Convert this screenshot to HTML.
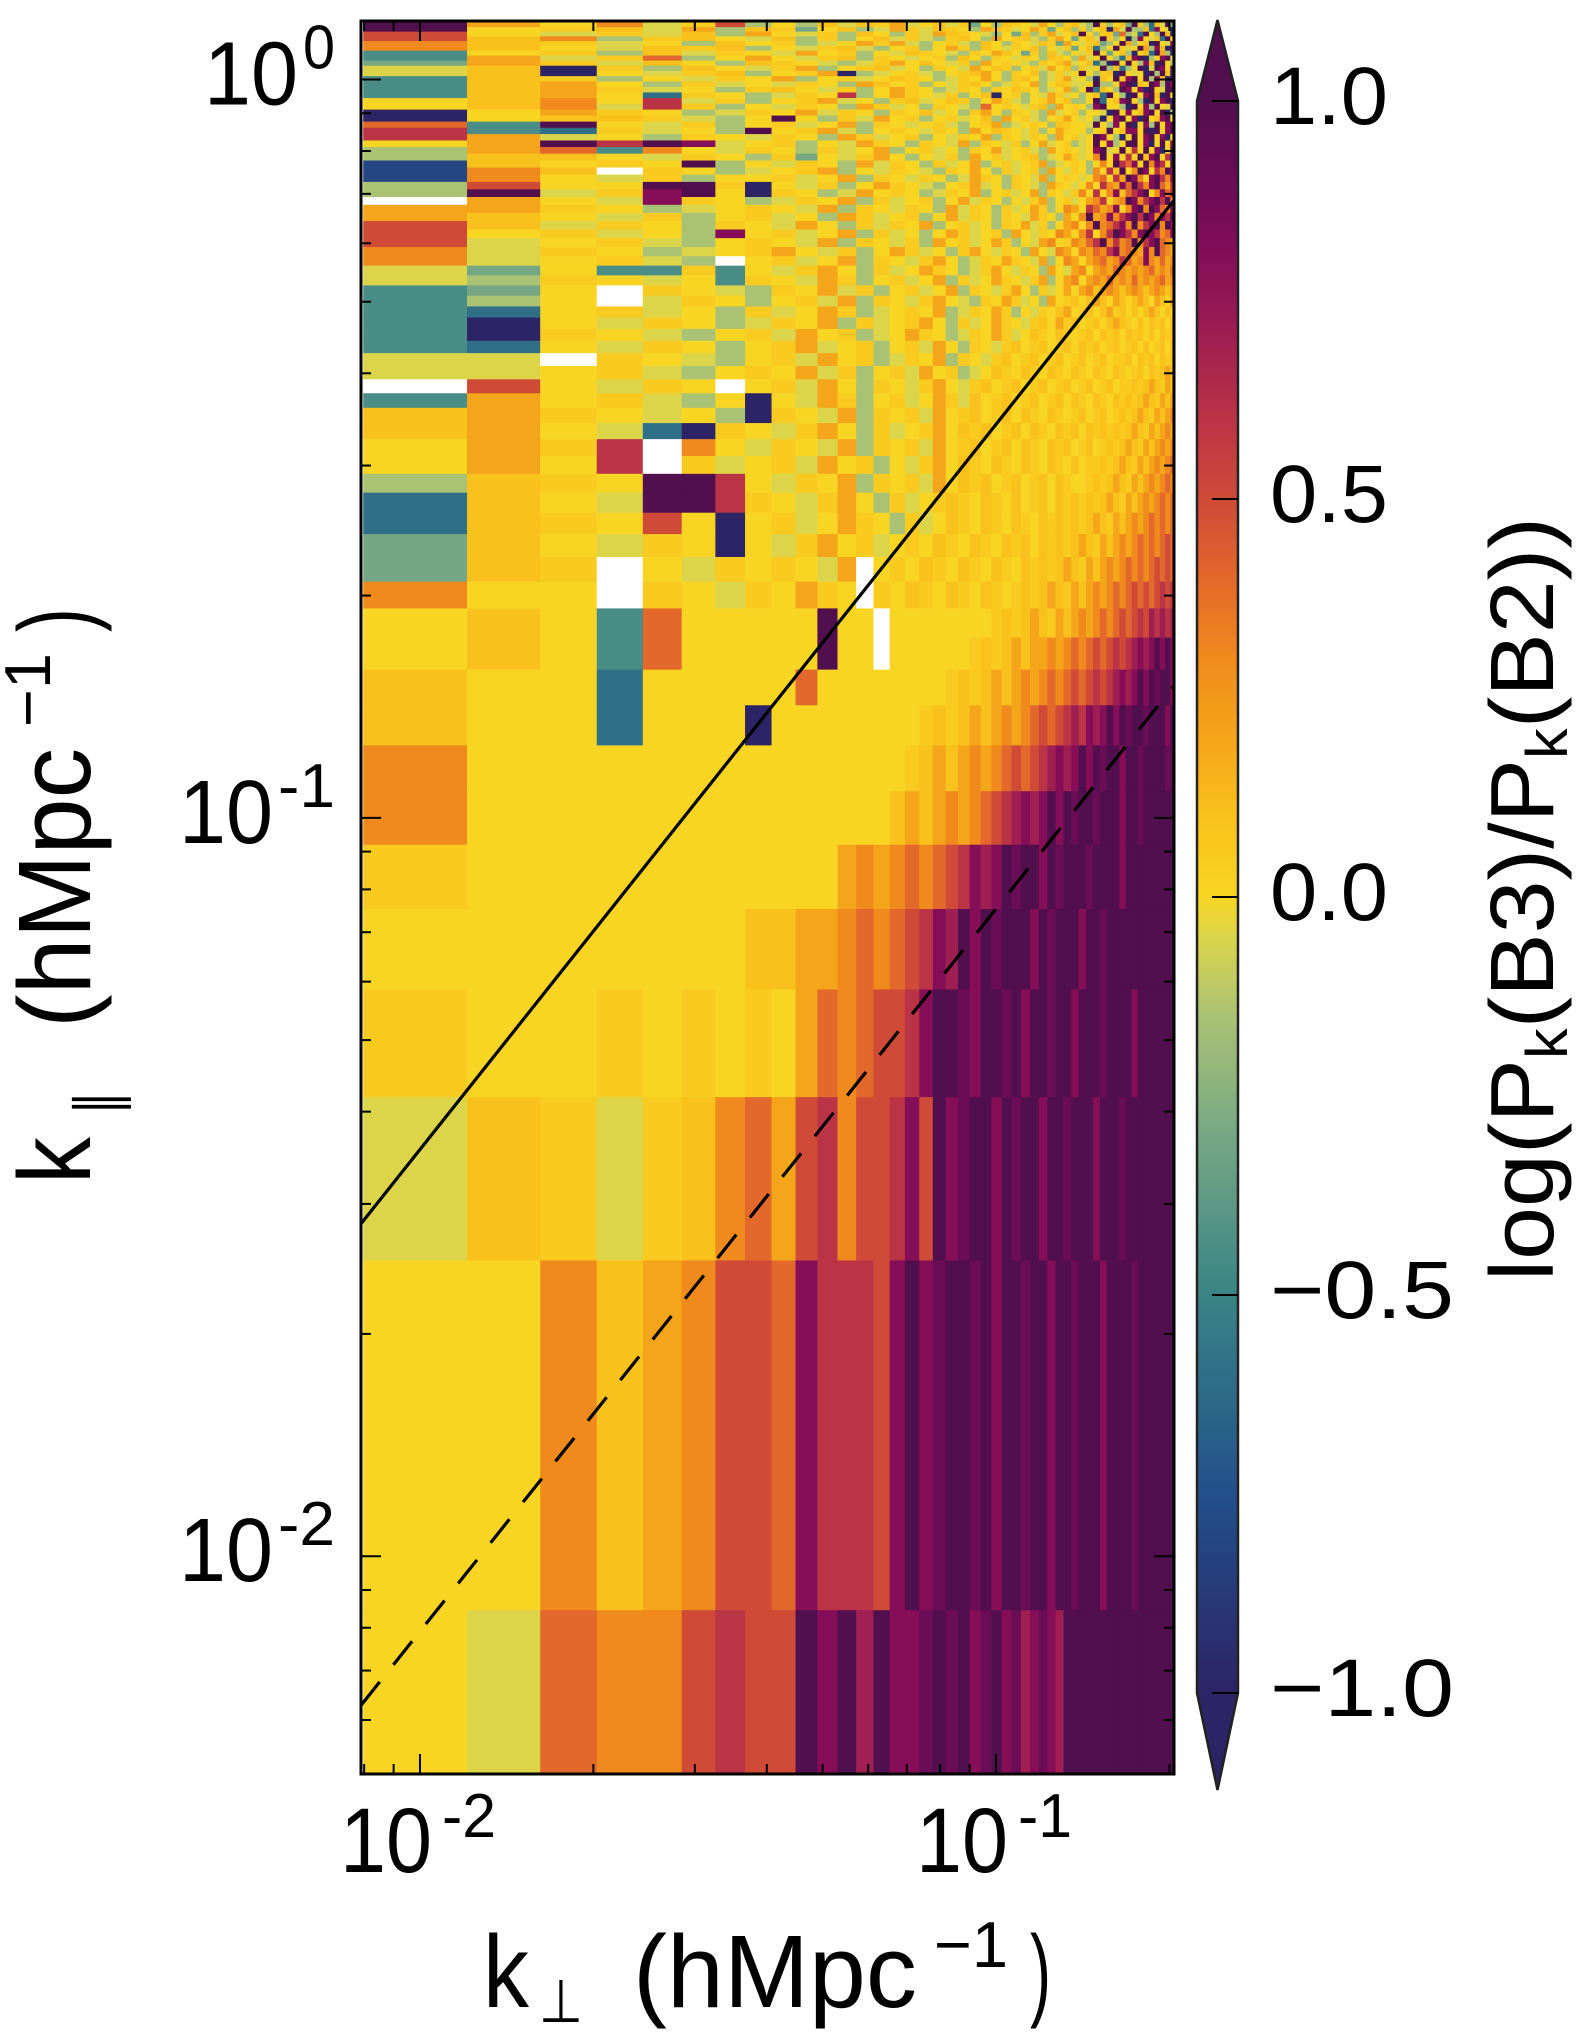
<!DOCTYPE html>
<html>
<head>
<meta charset="utf-8">
<style>
  html,body{margin:0;padding:0;background:#fff;}
  svg{display:block;}
  text{font-family:"Liberation Sans","DejaVu Sans",sans-serif;fill:#000;}
</style>
</head>
<body>
<svg id="chart" width="1590" height="2038" viewBox="0 0 1590 2038" xmlns="http://www.w3.org/2000/svg">
  <defs>
    <clipPath id="plotClip"><rect x="361" y="21" width="813" height="1753"/></clipPath>
    <linearGradient id="cbGrad" x1="0" y1="1" x2="0" y2="0"></linearGradient>
  </defs>
  <rect x="0" y="0" width="1590" height="2038" fill="#fff"/>
  <g id="heatmap" clip-path="url(#plotClip)"></g>
  <g id="lines" clip-path="url(#plotClip)"></g>
  <g id="ticks"></g>
  <rect x="361" y="21" width="813" height="1753" fill="none" stroke="#000" stroke-width="3"/>
  <g id="ticklabels"></g>
  <g id="colorbar"></g>

  <g>
    <text x="483" y="2007" font-size="103" textLength="46" lengthAdjust="spacingAndGlyphs">k</text>
    <text x="539" y="2022" font-size="60" textLength="44" lengthAdjust="spacingAndGlyphs" style='font-family:"DejaVu Sans",sans-serif'>⊥</text>
    <text x="633" y="2007" font-size="103" textLength="284" lengthAdjust="spacingAndGlyphs">(hMpc</text>
    <text x="934" y="1967" font-size="65" textLength="74" lengthAdjust="spacingAndGlyphs">−1</text>
    <text x="1030" y="2007" font-size="103" textLength="21" lengthAdjust="spacingAndGlyphs">)</text>
  </g>
  <g>
    <text x="90" y="1184" transform="rotate(-90 90 1184)" font-size="103" textLength="47" lengthAdjust="spacingAndGlyphs">k</text>
    <text x="118" y="1115" transform="rotate(-90 118 1115)" font-size="60" textLength="24" lengthAdjust="spacingAndGlyphs" style='font-family:"DejaVu Sans",sans-serif'>∥</text>
    <text x="90" y="1028" transform="rotate(-90 90 1028)" font-size="103" textLength="280" lengthAdjust="spacingAndGlyphs">(hMpc</text>
    <text x="50" y="727" transform="rotate(-90 50 727)" font-size="65" textLength="74" lengthAdjust="spacingAndGlyphs">−1</text>
    <text x="90" y="632" transform="rotate(-90 90 632)" font-size="103" textLength="24" lengthAdjust="spacingAndGlyphs">)</text>
  </g>
  <g>
    <text x="1553" y="1281" transform="rotate(-90 1553 1281)" font-size="90" textLength="764" lengthAdjust="spacingAndGlyphs">log(P<tspan font-size="58" dy="14">k</tspan><tspan dy="-14">(B3)/P</tspan><tspan font-size="58" dy="14">k</tspan><tspan dy="-14">(B2))</tspan></text>
  </g>
</svg>
<script>
// ---- data ----
const kPerpStart = 0.00797;
const kPerpStep = 0.0041;
const nCols = 48;
const kParFirstEdge = 0.00845;
const kParStep = 0.0167;
const levelChars = ["A","B","C","D","E","F","G","H","I","J","K","L","M","N","O","P","Q","R","S"];
const levelValues = [-1.0,-0.8,-0.6,-0.45,-0.3,-0.15,-0.05,0.0,0.05,0.1,0.2,0.3,0.4,0.5,0.6,0.7,0.8,0.9,1.0];
// rows from top (k_par bin 72) to bottom (bin 0); 'w' = no data
const rowCodes = [
"SJGKHFIJ GKEIJHGF KHIGFJHF IJFGKHEI GFJFKBIG HJEFIGKF",
"SKHLGINF HFJGJIKG HJGIEHFJ IHGKHFIJ GFSIFHJE SIFCJGSE",
"SHIJGKFJ IEHJFGKI GJIHFKJI GHKIEHJF IFHJAKGS FFJCQHGA",
"NHGIGJFK HGIFJHFI GKJIHGFH EJFIKGHJ SHFIJEMF GCSHFSJA",
"NJLFIJHG JFIFHJGI GFIJHFKH IJGFIKHE HJGSIFHA FQHGJCSH",
"LJIGHFJH IFGHKIKG FHIGFJHF IHGJIEKH GIJEFHSK FHJASHGQ",
"LJHGJIJF HGIJGFHI FHKIFJHG IHJFHGIE HJCFHSIG HSKFQJAS",
"DHIFJGIH GKHIFHGJ IHGFIHKJ HEIFJGFH GISHEHJF AHJCSKFA",
"DKGIMFHK HGIJFIHG HIFJHFIH GIHFJIHF KGHSHFCJ QSAFHQSG",
"EKIGJHFJ IHGFGIKH JHGIFKHI HGFIHJKG HJCFASHS HFQJASHF",
"GJAIFJHG IKFHIJGH FIHGKHJI FHIGKHJF IGHSFJCF HSAGSQHS",
"GJAHGIJF HIKAFGHI GFHIJKHF IHJFGIGH SHFIJASH GHASFSJA",
"DJIFHGIH KFHIGHJI HFGIHKHF IJHFGIKG HFAJHSIQ SHSFQJAS",
"DJKHFIGH GIHFKJHI FHGIJHFG IHKFHJIG GHSFFHQS AJHSQFSQ",
"DJKIGHFI JHGIFHKI HFGIHFIH JIHFGHKF HSCJHFSQ HQASHGSS",
"DJKHCIHF GIHOFHKI HGIFHJAH IFHGKIGH FHJCSHFA SHQSJASH",
"HJLHOGIF HIKGHFIJ GHJIFHKI GFHIKHJF FHSCHJQS HFASHQSA",
"HJLGOIFH GIHFKIGH FIHGFMHI HGIJFKHI HFQSHHFA SHQFSHGS",
"AHKIHFGI HKGIHFIH JGHFIKHF IHGFKGHI FHHGASHQ HJQSHSAF",
"AHJJIGFH SHFIGKHI FHIGHJFK HIGFHIKH GHFAHQSH QASHJQSH",
"MDSHGIFH IGHKFIHG HIGFHIKF GHIHFJIH HGSHFQHS AHQFSHQS",
"ODCIGHFS HIKGFHIH GIHFKHJI HGIFHKIH HFHISHJQ QHSASHQS",
"OKGHFIHG IHFKIGHI FHGIHKFI HGIHFKHI GHSQHFAH SHQSHQAH",
"HKSOSQGH IFHGKIHF IHGKFIHG IFHKGHIF GHSHQFHS SHQAHSHQ",
"FKMDLHGI HFIGHKFH IGHFIHKG HIGFKHIH GHQSGHSH OHSHQAHS",
"FJJHGIHF IEHGIKHF HGIFKHIG HIJFGHKI GHLSHQHO HSJQSHOA",
"BJHIHSFH GIHFKGIH FIGHKFHI GHIKFGHI HFHLHSOM QHSLQOHS",
"BLJwIHFG HIKFHGIH GFIHKHFI GHIFKHGI HFLHOJSH LSQHOLSQ",
"BLHGIFHH IGHKFIHG IHFGKIHF IHGKFHIH GHLMHOKS QLHQSOLQ",
"FNHHSSIA HGIFHKIH GFHIKGHF IHGFKIHG HLHOLKQM SOLQSMKO",
"FSGIQSHA IHFGKHIH FGIHKFHI GHKFIHGI LHOHLQJM OQSHLQMO",
"wKHGQIHF GIHKFIGH IFHKGIHF HGIKFHIG HKLOHKLS QLOQSOSL",
"KKIHFGHI HGKFIHGI HFKGIHFI GHKIFHLK HOMKLQHL QSLSQMLQ",
"KJHGIFHI GHFKIGHI FHKGIHFI HGKIHFKH LSKLQLOQ SOSQLQOS",
"NJGIHFIH GKHFIGIH KFHIGHFI HKGIFHKL HLSLMOQL SLOQSLSQ",
"NHIGHFQH IGHKFIGH FHKIGHIF KHGIHLKH LOHLOSQO LQSQOLMQ",
"NGHIGFHI HGKFIHGI FKHIGHKI FHGKLHIL KMOSLOLM SLOQSMLK",
"LGIHFGHI KHGIFHKI GHFIKHGI HFKHGLKH LKMLOQLM LKQLSMLK",
"LGHIGFwH IGHKFIHG IKHFGIHK IHGKFHLK HKLMKLOM KLQLKMKL",
"GEHDDIDH GIKHFIGH KIHFGIKH GIHFKHGK LHKLKMLK LKLMKLKM",
"GFIHGHDI HGKIFHIG HKFIGHKI HGIKFHKL HKLKMKLK MKLKLMKL",
"DEHwIHGF IHKGIFHI GHKFIHGI KHFIGHKH KLJKLKJK LKJKLKJK",
"DFHwGIHF HIGKFIHG IKHGFIHK IGHFKHIJ HJKJHKJH JKJHKJHK",
"DCHIGHFI GHKIFGHI HKFGIHKI FHGIHJKH IJHJKIJH JHJKJHJI",
"DAHGIHFG IHKFIGHI KHFIGHKI HGIJHKIJ HIJHJKJI HJHJIJHJ",
"DAIHGFHI GKHIFGHK IHFGIHKI GHJIHJIH IJHJIJHJ IJHJHJIJ",
"DCHGIHFH IKGHIFHI GKHFIHGI JHIJHIJH JIJHIJHI JHJHIJHJ",
"GGwIHGFH IGKHIFGI HKFIHGIJ HIJHIJHI JHIJHIIJ HJIJHJIJ",
"GGHIGFHI HKGIFHIG KHIFGHJI HJIHJIHJ IHJIHJIH IJHJIJKJ",
"wNHGIHwH IGKHFIHG IKHGIJHI JHIJHIJH IJHIJHII JIJKJIKJ",
"DKHIGFHA HGKIFHIG HKIGJHIJ HIJHIJHJ IHJIHJIJ IJKJIKJK",
"JKIHGHFA IHGKFIHI GKHIJHIJ HJIHJIHI JHIJHIJI JKJIKJKL",
"JKHGCAIH GIKHFIGH IKHJIJHI JHJIHJIJ HJIJIJIJ KJIKJKLK",
"HKIOwLHG IHGKFIHI GKHIJHIJ HJIHJIJH IJHIJIJK JIKJKLKL",
"HKHOwIGH IGKHIFHG IKHJIHJI HJIHJIHJ HIIJIJKJ IKJKLKLM",
"FJIHSSOH GIHKFIHI GKHJIJHI JHIJHJIH HIJIJKJI KJKLKLML",
"CJHGSSOI HGIKHFIG HIJIHJIH JHIJHJIJ IJIJKJIK JKLKLMLM",
"CJIHNHAH IGHKIHFI GHJIHJIH JIHJIJIJ IJKJIKJK LKLMLMLM",
"EJHGIHAH GIKHIGHI HJIHJIHJ IJHJIJIJ KJIKJKLK LMLMLMNM",
"EJIwHGIH IHGKwHIH JIHJIHJI HJIJIJKJ IKJKLKLM LMLMNMNM",
"LHHwIHGI HKIHwIHJ IHJIHJIH IJIJKJIK JKLKLMLM NMNMNONO",
"HJHDMHHH HHSHHwHH HHHHHHIJ IJKJIKJK LKLMLMNM NONPOPOP",
"HJHDMHHH HHSHHwHH HHHHIJIJ KJKKLKLM LMNMNONO PQPQSQSQ",
"JHHCHHHH HMHHHHHH HHIJIJKJ KLKLMLMN MNONOPQP QSQSRSSQ",
"JHHCHHHA HHHHHHHH IJIJKJKL KLMNMNOP OQPQSQSR SSRSSSQS",
"LHHHHHHH HHHHHHHI JKJKLKLM NMNOPQPQ SQSRSSQS SRSSSSRS",
"LHHHHHHH HHHHHHJK JKLKLMNO PQPQSQSR SSRSSSQS SRSSSSSS",
"IHHHHHHH HHHKLKLM LMNOQPQS RSSQSRSS SRSSSSQS SSSSSSSS",
"HHHHHHHJ JKKLMLMN OQPSQSRS SSQSRSSS QSSRSSSS SSSSSSSS",
"IHHIHIHI HKMLMNNO QSSRQSSR SQSSRSSQ SSSRSSSS QSSSSSSS",
"GJIGIJLM KNOLNNOQ NSQRSSQS RSSQSSRS SSQSSSRS SSSSSSSS",
"HHLJKLNN MQOOONQS QRSSRSQS SRSSQSSR SSSQSSSS RSSSSSSS",
"HGMLLNON NSQSPSQQ RSRSQRSQ RPQRQPSS SSSSSSSS SSSSSSSS"
];
const xTickValues = [0.01, 0.1];
const xTickExps = ["-2", "-1"];
const yTickValues = [1, 0.1, 0.01];
const yTickExps = ["0", "-1", "-2"];
const cbTickValues = [1.0, 0.5, 0.0, -0.5, -1.0];
const cbTickLabels = ["1.0", "0.5", "0.0", "\u22120.5", "\u22121.0"];
const solidLineKPerp = [0.0079, 0.2037];
const solidLineKPar = [0.0282, 0.686];
const dashedLineKPerp = [0.0079, 0.2037];
const dashedLineKPar = [0.00628, 0.151];

// ---- scales ----
const X0 = 361, X1 = 1174, Y0 = 1774, Y1 = 21;
const xDom = [0.0079, 0.2037], yDom = [0.00507, 1.2];
function xScale(k){ const a=Math.log10(xDom[0]), b=Math.log10(xDom[1]); return X0 + (Math.log10(k)-a)/(b-a)*(X1-X0); }
function yScale(k){ const a=Math.log10(yDom[0]), b=Math.log10(yDom[1]); return Y0 + (Math.log10(k)-a)/(b-a)*(Y1-Y0); }
const cbTop = 101, cbBot = 1693, cbL = 1197, cbR = 1238;
function cbScale(v){ return cbBot + (v+1)/2*(cbTop-cbBot); }

const stops = [[-1,'#2d2466'],[-0.75,'#22508a'],[-0.5,'#3a8486'],[-0.3,'#76a784'],[-0.15,'#a9c274'],[-0.05,'#dcd54a'],[0,'#f8d523'],[0.1,'#f9c11c'],[0.2,'#f5a519'],[0.3,'#f08a1c'],[0.4,'#e2682b'],[0.5,'#d04a38'],[0.6,'#bb3446'],[0.7,'#a01f52'],[0.8,'#860e58'],[0.9,'#6a0c56'],[1.0,'#520f4d']];
function hex2rgb(h){ return [parseInt(h.slice(1,3),16),parseInt(h.slice(3,5),16),parseInt(h.slice(5,7),16)]; }
function cmap(v){
  if (v<=stops[0][0]) return stops[0][1];
  for (let i=1;i<stops.length;i++){
    if (v<=stops[i][0]){
      const t=(v-stops[i-1][0])/(stops[i][0]-stops[i-1][0]);
      const a=hex2rgb(stops[i-1][1]), b=hex2rgb(stops[i][1]);
      return 'rgb('+a.map((c,j)=>Math.round(c+(b[j]-c)*t)).join(',')+')';
    }
  }
  return stops[stops.length-1][1];
}
const NS = "http://www.w3.org/2000/svg";
function mk(tag, attrs, parent){ const e=document.createElementNS(NS,tag); for (const k in attrs) e.setAttribute(k, attrs[k]); parent.appendChild(e); return e; }

// ---- heatmap ----
const hm = document.getElementById('heatmap');
const nRows = rowCodes.length;
rowCodes.forEach((code, idx) => {
  const s = code.replace(/ /g,'');
  const j = nRows - 1 - idx;
  const ylo = j===0 ? yDom[0] : kParFirstEdge + (j-1)*kParStep;
  const yhi = Math.min(kParFirstEdge + j*kParStep, yDom[1]*1.05);
  const yTop = yScale(yhi), yBot = yScale(ylo);
  for (let i=0;i<nCols;i++){
    const ch = s[i] || 'H';
    const xlo = kPerpStart + i*kPerpStep, xhi = xlo + kPerpStep;
    const xa = xScale(Math.max(xlo, xDom[0]*0.99)), xb = xScale(xhi);
    let fill;
    if (ch === 'w') fill = '#ffffff';
    else { const li = levelChars.indexOf(ch); fill = cmap(li>=0 ? levelValues[li] : 0); }
    const r = mk('rect', {x:xa.toFixed(2), y:yTop.toFixed(2), width:(xb-xa+0.6).toFixed(2), height:(yBot-yTop+0.6).toFixed(2), fill:fill}, hm);
    
    
  }
});

// ---- reference lines ----
const lg = document.getElementById('lines');
const solid = mk('line', {x1:xScale(solidLineKPerp[0]), y1:yScale(solidLineKPar[0]), x2:xScale(solidLineKPerp[1]), y2:yScale(solidLineKPar[1]), stroke:'#000', 'stroke-width':3.2}, lg);


const dashed = mk('line', {x1:xScale(dashedLineKPerp[0]), y1:yScale(dashedLineKPar[0]), x2:xScale(dashedLineKPerp[1]), y2:yScale(dashedLineKPar[1]), stroke:'#000', 'stroke-width':3.2, 'stroke-dasharray':'30 22'}, lg);



// ---- ticks ----
const tg = document.getElementById('ticks');
for (let d=-3; d<=0; d++){
  for (let m=1; m<=9; m++){
    const v = m*Math.pow(10,d);
    const len = m===1 ? 20 : 10;
    if (v>=xDom[0] && v<=xDom[1]){
      const x = xScale(v);
      const t1 = mk('line', {x1:x, y1:Y0, x2:x, y2:Y0-len, stroke:'#000', 'stroke-width':2}, tg);
      
      
      const t2 = mk('line', {x1:x, y1:Y1, x2:x, y2:Y1+len, stroke:'#000', 'stroke-width':2}, tg);
      
      
    }
    if (v>=yDom[0] && v<=yDom[1]){
      const y = yScale(v);
      const t3 = mk('line', {x1:X0, y1:y, x2:X0+len, y2:y, stroke:'#000', 'stroke-width':2}, tg);
      
      
      const t4 = mk('line', {x1:X1, y1:y, x2:X1-len, y2:y, stroke:'#000', 'stroke-width':2}, tg);
      
      
    }
  }
}

// ---- tick labels ----
const tl = document.getElementById('ticklabels');
yTickValues.forEach((v, i) => {
  const y = yScale(v);
  const supW = yTickExps[i].length > 1 ? 57 : 32;
  const g = mk('g', {}, tl);
  
  
  const b = mk('text', {x:335-supW-5, y:y+25, 'font-size':90, 'text-anchor':'end', textLength:94, lengthAdjust:'spacingAndGlyphs'}, g);
  b.textContent = '10';
  const s = mk('text', {x:335, y:y-11, 'font-size':62, 'text-anchor':'end', textLength:supW, lengthAdjust:'spacingAndGlyphs'}, g);
  s.textContent = yTickExps[i];
});
xTickValues.forEach((v, i) => {
  const x = xScale(v);
  const g = mk('g', {}, tl);
  
  
  const b = mk('text', {x:x-80, y:1872, 'font-size':92, textLength:92, lengthAdjust:'spacingAndGlyphs'}, g);
  b.textContent = '10';
  const s = mk('text', {x:x+22, y:1837, 'font-size':62, textLength:54, lengthAdjust:'spacingAndGlyphs'}, g);
  s.textContent = xTickExps[i];
});

// ---- colorbar ----
const grad = document.getElementById('cbGrad');
stops.forEach(st => { mk('stop', {offset:((st[0]+1)/2*100).toFixed(2)+'%', 'stop-color':st[1]}, grad); });
const cb = document.getElementById('colorbar');
const cbRect = mk('rect', {x:cbL, y:cbTop, width:cbR-cbL, height:cbBot-cbTop, fill:'url(#cbGrad)'}, cb);


const triTop = mk('polygon', {points:`${cbL},${cbTop} ${(cbL+cbR)/2},20 ${cbR},${cbTop}`, fill:stops[stops.length-1][1]}, cb);


const triBot = mk('polygon', {points:`${cbL},${cbBot} ${(cbL+cbR)/2},1790 ${cbR},${cbBot}`, fill:stops[0][1]}, cb);


const outline = mk('polygon', {points:`${cbL},${cbTop} ${(cbL+cbR)/2},20 ${cbR},${cbTop} ${cbR},${cbBot} ${(cbL+cbR)/2},1790 ${cbL},${cbBot}`, fill:'none', stroke:'#222', 'stroke-width':2.5}, cb);


cbTickValues.forEach((v, i) => {
  const y = cbScale(v);
  const t = mk('line', {x1:cbR-26, y1:y, x2:cbR, y2:y, stroke:'#000', 'stroke-width':2}, cb);
  
  
  const lab = mk('text', {x:1270, y:y+23, 'font-size':82, textLength:cbTickLabels[i].length>3?184:118, lengthAdjust:'spacingAndGlyphs'}, cb);
  
  
  lab.textContent = cbTickLabels[i];
});
</script>
</body>
</html>
